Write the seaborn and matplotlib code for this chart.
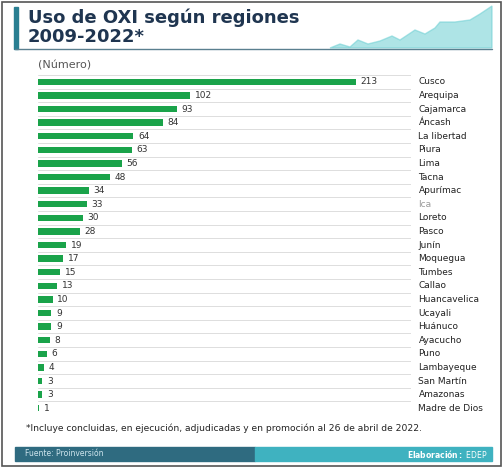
import matplotlib.pyplot as plt
import matplotlib.patches as mpatches
import seaborn as sns
import pandas as pd

regions = ['Cusco', 'Arequipa', 'Cajamarca', 'Áncash', 'La libertad', 'Piura', 'Lima', 'Tacna',
           'Apurímac', 'Ica', 'Loreto', 'Pasco', 'Junín', 'Moquegua', 'Tumbes', 'Callao',
           'Huancavelica', 'Ucayali', 'Huánuco', 'Ayacucho', 'Puno', 'Lambayeque', 'San Martín',
           'Amazonas', 'Madre de Dios']
values = [213, 102, 93, 84, 64, 63, 56, 48, 34, 33, 30, 28, 19, 17, 15, 13, 10, 9, 9, 8, 6, 4, 3, 3, 1]

df = pd.DataFrame({'region': regions, 'value': values})

sns.set_theme(style='white')
plt.rcParams['font.family'] = ['DejaVu Sans']

fig = plt.figure(figsize=(5.03, 4.68), dpi=100)
n = len(regions)
top_px, bot_px = 75, 415
ax = fig.add_axes([38 / 503, 1 - bot_px / 468, (411 - 38) / 503, (bot_px - top_px) / 468])

sns.barplot(data=df, y='region', x='value', color='#1aa34a', width=0.48, ax=ax,
            saturation=1, orient='h', linewidth=0)
ax.set_xlim(0, 250)
ax.set_ylim(n - 0.5, -0.5)
for i in range(n + 1):
    ax.axhline(i - 0.5, color='#dddddd', lw=0.7, zorder=0)
for i, v in enumerate(values):
    ax.text(v + 3, i, str(v), va='center', ha='left', fontsize=6.5, color='#333333')
ax.set_xticks([])
ax.set_yticks([])
ax.set_xlabel('')
ax.set_ylabel('')
for s in ax.spines.values():
    s.set_visible(False)
for i, r in enumerate(regions):
    ax.text(1.02, i, r, transform=ax.get_yaxis_transform(), va='center', ha='left',
            fontsize=6.5, color='#9a9a9a' if r == 'Ica' else '#222222')

# frame, title and decorations
fig.patches.append(mpatches.Rectangle((2 / 503, 2 / 468), 499 / 503, 464 / 468,
                                      transform=fig.transFigure, fill=False, ec='#555555', lw=1.2))
fig.patches.append(mpatches.Rectangle((14 / 503, 1 - 49 / 468), 4 / 503, 42 / 468,
                                      transform=fig.transFigure, color='#2a7f92'))
fig.add_artist(plt.Line2D([15 / 503, 492 / 503], [1 - 49 / 468] * 2, transform=fig.transFigure,
                          color='#5a7f8f', lw=1))
mx = [330, 340, 350, 358, 368, 380, 392, 400, 415, 425, 435, 440, 455, 470, 480, 492, 492]
my = [48, 44, 47, 40, 44, 41, 36, 40, 30, 34, 28, 22, 22, 20, 14, 6, 48]
fig.patches.append(mpatches.Polygon([(x / 503, 1 - y / 468) for x, y in zip(mx, my)],
                                    transform=fig.transFigure, color='#6ccfd3', alpha=0.55))
fig.text(28 / 503, 1 - 27 / 468, 'Uso de OXI según regiones\n2009-2022*', fontsize=13,
         fontweight='bold', color='#1f3550', va='center', ha='left', linespacing=1.05)
fig.text(38 / 503, 1 - 65 / 468, '(Número)', fontsize=8, color='#555555', va='center')
fig.text(26 / 503, 1 - 428 / 468, '*Incluye concluidas, en ejecución, adjudicadas y en promoción al 26 de abril de 2022.',
         fontsize=6.6, color='#222222', va='center')

fig.patches.append(mpatches.Rectangle((15 / 503, 1 - 461 / 468), 240 / 503, 14 / 468,
                                      transform=fig.transFigure, color='#2f6b80'))
fig.patches.append(mpatches.Rectangle((255 / 503, 1 - 461 / 468), 237 / 503, 14 / 468,
                                      transform=fig.transFigure, color='#3fb2c0'))
fig.text(25 / 503, 1 - 454 / 468, 'Fuente: Proinversión', fontsize=5.5, color='#cfe6ee', va='center')
fig.text(488 / 503, 1 - 454 / 468, r'$\bf{Elaboración:}$ EDEP', fontsize=5.5, color='white',
         va='center', ha='right')

fig.savefig('out.png', dpi=100)
